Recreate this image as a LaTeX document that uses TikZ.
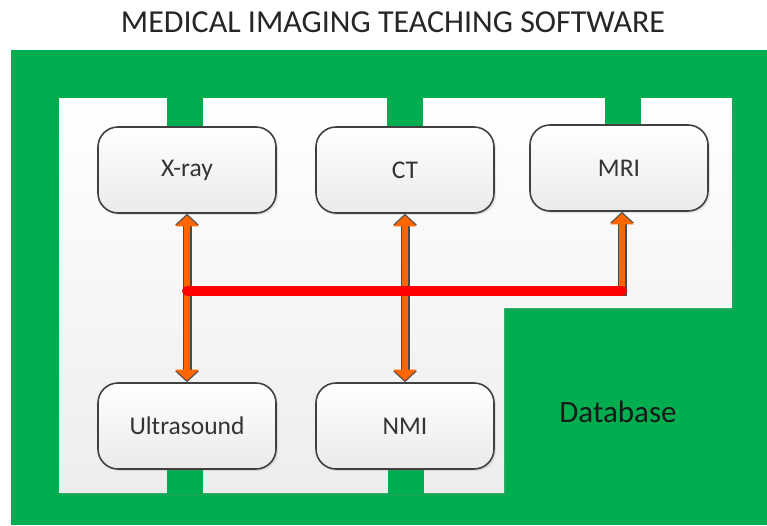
\documentclass[tikz,border=0pt]{standalone}
\usepackage{fontspec}
\setmainfont{Carlito}
\usetikzlibrary{arrows.meta,calc,positioning,shadows}
\definecolor{dbgreen}{HTML}{00AE50}
\definecolor{arorange}{HTML}{FF6600}
\definecolor{arline}{HTML}{4A4A4A}
\definecolor{boxline}{HTML}{404040}
\tikzset{
	mod/.style={draw=boxline, line width=1.6pt, rounded corners=20pt,
		minimum width=178pt, minimum height=86pt,
		top color=white, bottom color=black!8,
		drop shadow={opacity=.18, shadow xshift=2pt, shadow yshift=-2pt},
		text=black!80, font=\fontsize{25.5}{30}\selectfont},
	outtip/.tip={Triangle[width=28pt,length=14pt]},
	intip/.tip={Triangle[width=23pt,length=11pt]},
	ar/.style={draw=arorange, line width=5.5pt, shorten >=1.6pt, shorten <=1.6pt,
		preaction={draw=arline, line width=9pt, shorten >=0pt, shorten <=0pt}},
	both/.style={ar, intip-intip, preaction={outtip-outtip}},
	up/.style={ar, -intip, preaction={-outtip}},
	redbus/.style={draw=red, line width=10pt, line cap=round}
}
\begin{document}
\begin{tikzpicture}[x=1pt, y=-1pt]
	\useasboundingbox (0,0) rectangle (767,525);
	% frame and work area
	\fill[dbgreen] (11,50) rectangle (767,525);
	\shade[top color=white, bottom color=black!7,
		drop shadow={opacity=.15, shadow xshift=3pt, shadow yshift=-3pt}]
		(59,98) -- (732,98) -- (732,308) -- (504,308) -- (504,493) -- (59,493) -- cycle;
	\foreach \x in {185,405,623} \fill[dbgreen] (\x-18,97) rectangle (\x+18,140);
	\foreach \x in {185,406} \fill[dbgreen] (\x-18,460) rectangle (\x+18,494);
	% modules
	\node[mod] (xray) at (187,170) {X-ray};
	\node[mod] (ct)   at (405,170) {CT};
	\node[mod] (mri)  at (619,168) {MRI};
	\node[mod] (us)   at (187,426) {Ultrasound};
	\node[mod] (nmi)  at (405,426) {NMI};
	\node[font=\fontsize{31}{36}\selectfont, text=black!90] (db) at (618,412) {Database};
	\node[font=\fontsize{32}{36}\selectfont, text=black!85] (title) at (393,22) {MEDICAL IMAGING TEACHING SOFTWARE};
	% links
	\coordinate (jl) at ($(xray.south)!.5!(us.north)+(0,-7)$);
	\coordinate (jr) at ($(jl -| mri.south)+(3,0)$);
	\draw[both] (xray.south) -- (us.north);
	\draw[both] (ct.south) -- (nmi.south |- nmi.north);
	\draw[up] ($(jr)+(0,5)$) -- (jr |- mri.south);
	\draw[redbus] (jl) -- (jr);
\end{tikzpicture}
\end{document}
